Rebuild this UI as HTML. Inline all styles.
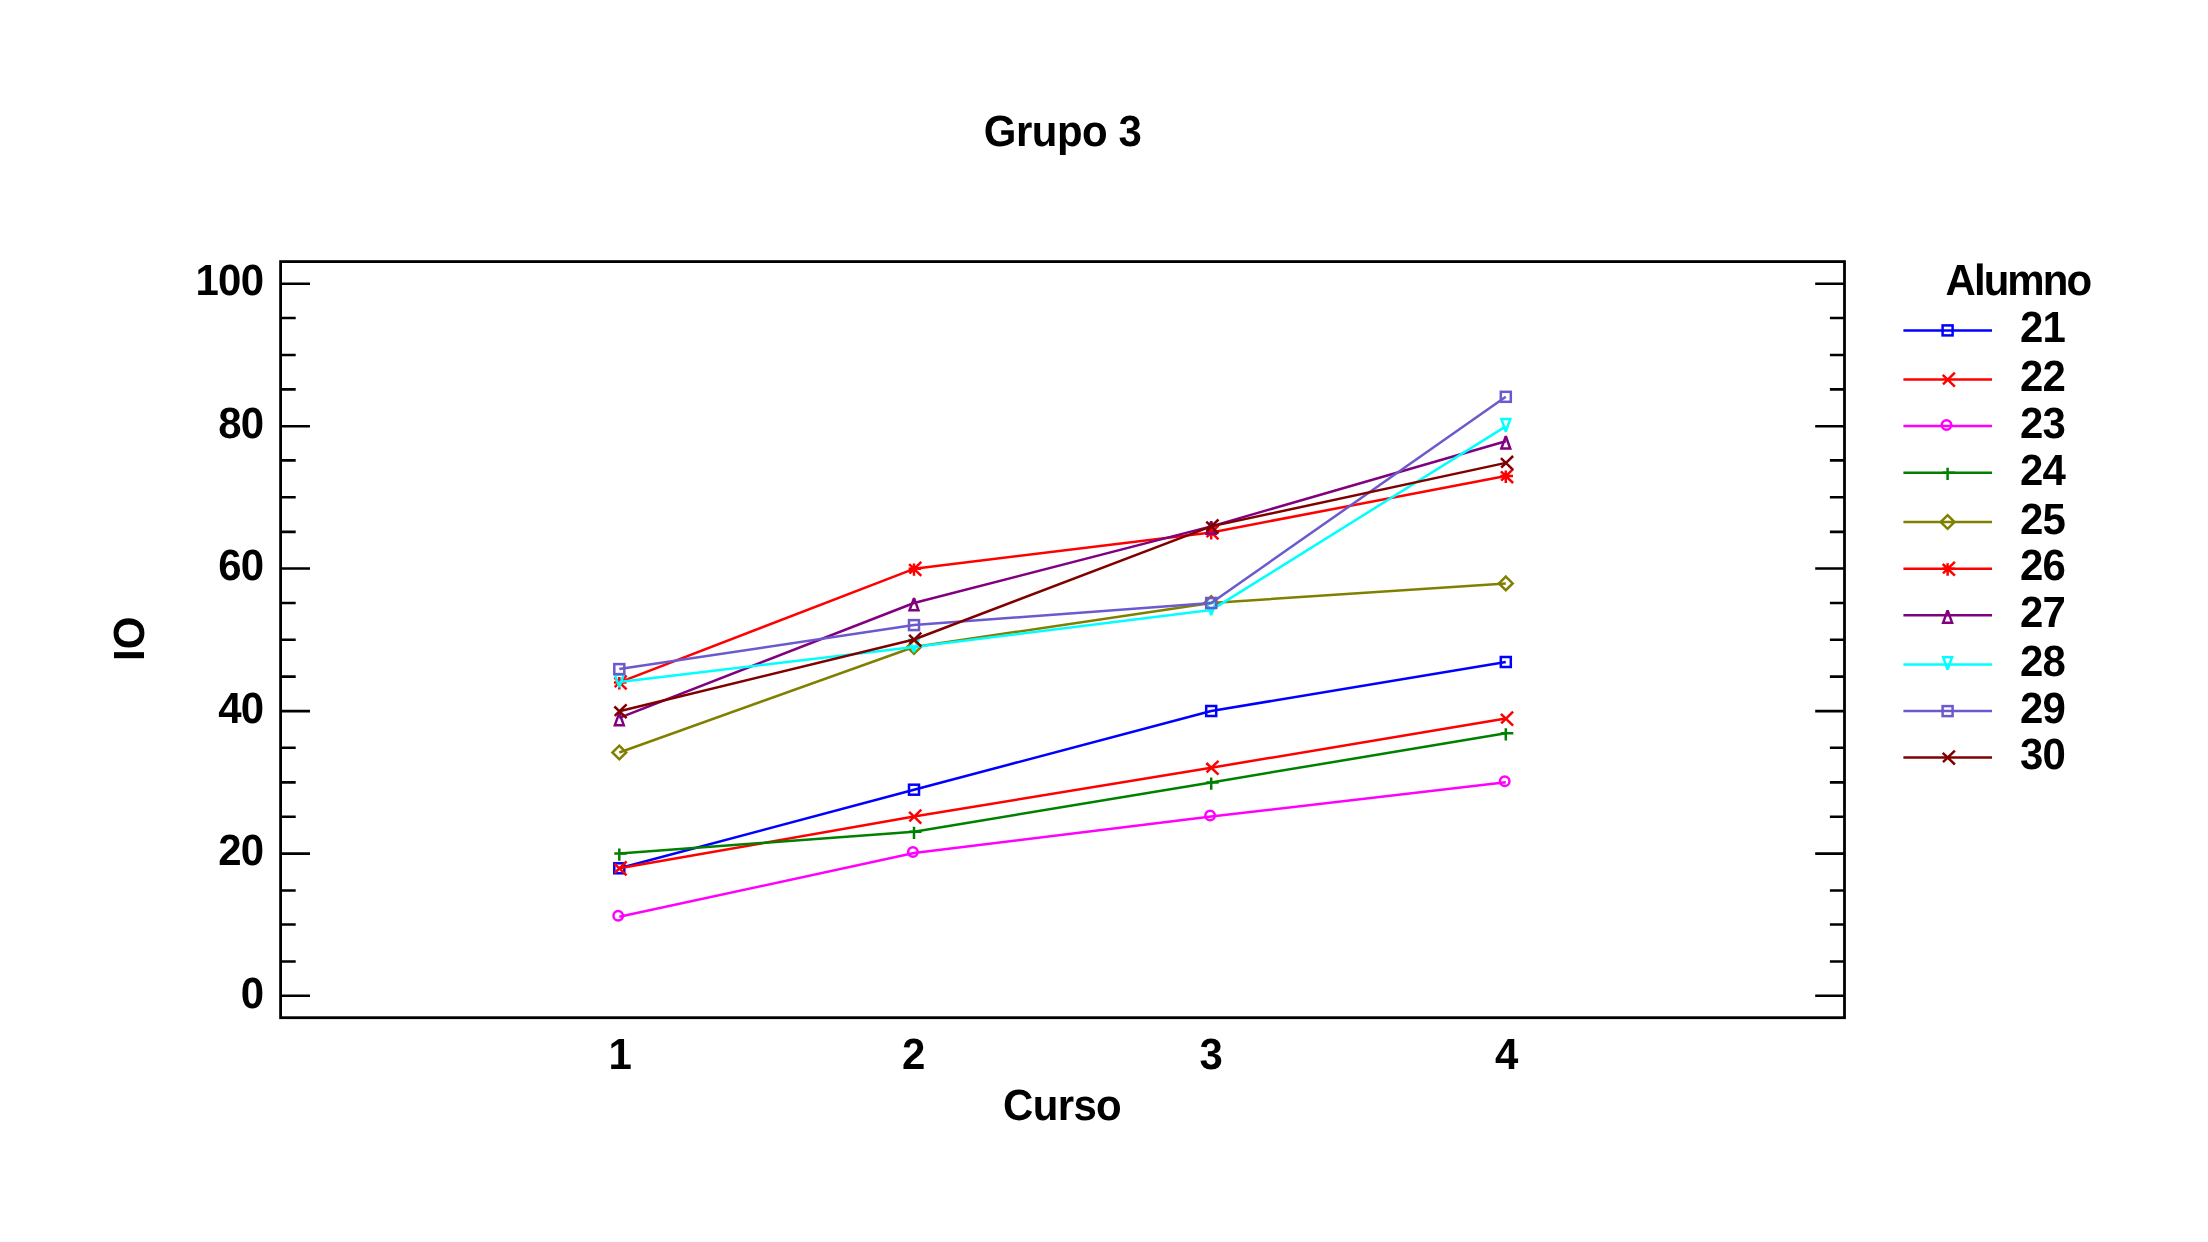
<!DOCTYPE html>
<html><head><meta charset="utf-8"><title>Grupo 3</title>
<style>
html,body{margin:0;padding:0;background:#fff;}
body{width:2208px;height:1242px;overflow:hidden;font-family:"Liberation Sans",sans-serif;}
svg{display:block;will-change:transform;}
text{font-family:"Liberation Sans",sans-serif;font-weight:bold;fill:#000;text-rendering:geometricPrecision;}
</style></head><body>
<svg width="2208" height="1242" viewBox="0 0 2208 1242">
<rect x="0" y="0" width="2208" height="1242" fill="#ffffff"/>
<text id="title" transform="translate(983.70,146.00) scale(0.9633,1)" font-size="43.6" letter-spacing="-0.5">Grupo 3</text>
<text id="xlab" transform="translate(1003.10,1120.00) scale(0.9633,1)" font-size="43.6" letter-spacing="-0.7">Curso</text>
<text id="ylab" transform="translate(144.30,660.90) rotate(-90) scale(0.9633,1)" font-size="43.6">IO</text>
<text transform="translate(263.30,1008.00) scale(0.9633,1)" font-size="43.6" text-anchor="end" letter-spacing="-0.8">0</text>
<text transform="translate(263.30,865.00) scale(0.9633,1)" font-size="43.6" text-anchor="end" letter-spacing="-0.8">20</text>
<text transform="translate(263.30,723.00) scale(0.9633,1)" font-size="43.6" text-anchor="end" letter-spacing="-0.8">40</text>
<text transform="translate(263.30,580.00) scale(0.9633,1)" font-size="43.6" text-anchor="end" letter-spacing="-0.8">60</text>
<text transform="translate(263.30,438.00) scale(0.9633,1)" font-size="43.6" text-anchor="end" letter-spacing="-0.8">80</text>
<text transform="translate(263.30,295.00) scale(0.9633,1)" font-size="43.6" text-anchor="end" letter-spacing="-0.8">100</text>
<text transform="translate(620.10,1069.00) scale(0.9633,1)" font-size="43.6" text-anchor="middle">1</text>
<text transform="translate(913.70,1069.00) scale(0.9633,1)" font-size="43.6" text-anchor="middle">2</text>
<text transform="translate(1211.30,1069.00) scale(0.9633,1)" font-size="43.6" text-anchor="middle">3</text>
<text transform="translate(1506.60,1069.00) scale(0.9633,1)" font-size="43.6" text-anchor="middle">4</text>
<path d="M280.6,995.80h29.4M1844.5,995.80h-29.3M280.6,961.50h15.1M1844.5,961.50h-14.6M280.6,924.50h15.1M1844.5,924.50h-14.6M280.6,890.50h15.1M1844.5,890.50h-14.6M280.6,853.60h29.4M1844.5,853.60h-29.3M280.6,816.70h15.1M1844.5,816.70h-14.6M280.6,782.40h15.1M1844.5,782.40h-14.6M280.6,747.80h15.1M1844.5,747.80h-14.6M280.6,711.10h29.4M1844.5,711.10h-29.3M280.6,676.60h15.1M1844.5,676.60h-14.6M280.6,639.80h15.1M1844.5,639.80h-14.6M280.6,603.00h15.1M1844.5,603.00h-14.6M280.6,568.50h29.4M1844.5,568.50h-29.3M280.6,531.90h15.1M1844.5,531.90h-14.6M280.6,497.30h15.1M1844.5,497.30h-14.6M280.6,460.40h15.1M1844.5,460.40h-14.6M280.6,426.30h29.4M1844.5,426.30h-29.3M280.6,389.40h15.1M1844.5,389.40h-14.6M280.6,355.00h15.1M1844.5,355.00h-14.6M280.6,318.00h15.1M1844.5,318.00h-14.6M280.6,283.70h29.4M1844.5,283.70h-29.3" stroke="#000" stroke-width="2.6" fill="none"/>
<rect x="280.6" y="261.6" width="1563.90" height="756.10" fill="none" stroke="#000" stroke-width="2.8"/>
<g><polyline points="619.30,868.30 914.00,789.70 1211.20,711.00 1505.80,662.00" fill="none" stroke="#0000ff" stroke-width="2.5" stroke-linejoin="round"/>
<rect transform="translate(619.30,868.30)" x="-5" y="-5" width="10" height="10" stroke="#0000ff" stroke-width="2.5" fill="none" stroke-miterlimit="2.5"/>
<rect transform="translate(914.00,789.70)" x="-5" y="-5" width="10" height="10" stroke="#0000ff" stroke-width="2.5" fill="none" stroke-miterlimit="2.5"/>
<rect transform="translate(1211.20,711.00)" x="-5" y="-5" width="10" height="10" stroke="#0000ff" stroke-width="2.5" fill="none" stroke-miterlimit="2.5"/>
<rect transform="translate(1505.80,662.00)" x="-5" y="-5" width="10" height="10" stroke="#0000ff" stroke-width="2.5" fill="none" stroke-miterlimit="2.5"/>
</g>
<g><polyline points="619.30,868.30 914.00,816.60 1211.20,767.70 1505.80,718.60" fill="none" stroke="#ff0000" stroke-width="2.5" stroke-linejoin="round"/>
<path transform="translate(619.30,868.30)" d="M-4.9,-4.7L7.3,7.0M7.3,-6.9L-4.6,4.7" stroke="#ff0000" stroke-width="2.5" fill="none" stroke-miterlimit="2.5"/>
<path transform="translate(914.00,816.60)" d="M-4.9,-4.7L7.3,7.0M7.3,-6.9L-4.6,4.7" stroke="#ff0000" stroke-width="2.5" fill="none" stroke-miterlimit="2.5"/>
<path transform="translate(1211.20,767.70)" d="M-4.9,-4.7L7.3,7.0M7.3,-6.9L-4.6,4.7" stroke="#ff0000" stroke-width="2.5" fill="none" stroke-miterlimit="2.5"/>
<path transform="translate(1505.80,718.60)" d="M-4.9,-4.7L7.3,7.0M7.3,-6.9L-4.6,4.7" stroke="#ff0000" stroke-width="2.5" fill="none" stroke-miterlimit="2.5"/>
</g>
<g><polyline points="619.30,916.80 914.00,853.00 1211.20,816.50 1505.80,782.20" fill="none" stroke="#ff00ff" stroke-width="2.5" stroke-linejoin="round"/>
<circle transform="translate(619.30,916.80)" cx="-1.1" cy="-1.0" r="4.75" stroke="#ff00ff" stroke-width="2.5" fill="none" stroke-miterlimit="2.5"/>
<circle transform="translate(914.00,853.00)" cx="-1.1" cy="-1.0" r="4.75" stroke="#ff00ff" stroke-width="2.5" fill="none" stroke-miterlimit="2.5"/>
<circle transform="translate(1211.20,816.50)" cx="-1.1" cy="-1.0" r="4.75" stroke="#ff00ff" stroke-width="2.5" fill="none" stroke-miterlimit="2.5"/>
<circle transform="translate(1505.80,782.20)" cx="-1.1" cy="-1.0" r="4.75" stroke="#ff00ff" stroke-width="2.5" fill="none" stroke-miterlimit="2.5"/>
</g>
<g><polyline points="619.30,853.50 914.00,831.80 1211.20,782.40 1505.80,733.30" fill="none" stroke="#008000" stroke-width="2.5" stroke-linejoin="round"/>
<path transform="translate(619.30,853.50)" d="M0,-5L0,7.3M-5,0L7.5,0" stroke="#008000" stroke-width="2.5" fill="none" stroke-miterlimit="2.5"/>
<path transform="translate(914.00,831.80)" d="M0,-5L0,7.3M-5,0L7.5,0" stroke="#008000" stroke-width="2.5" fill="none" stroke-miterlimit="2.5"/>
<path transform="translate(1211.20,782.40)" d="M0,-5L0,7.3M-5,0L7.5,0" stroke="#008000" stroke-width="2.5" fill="none" stroke-miterlimit="2.5"/>
<path transform="translate(1505.80,733.30)" d="M0,-5L0,7.3M-5,0L7.5,0" stroke="#008000" stroke-width="2.5" fill="none" stroke-miterlimit="2.5"/>
</g>
<g><polyline points="619.30,752.50 914.00,647.00 1211.20,603.00 1505.80,583.40" fill="none" stroke="#808000" stroke-width="2.5" stroke-linejoin="round"/>
<path transform="translate(619.30,752.50)" d="M0,-6.8L6.9,0L0,6.8L-6.9,0Z" stroke="#808000" stroke-width="2.5" fill="none" stroke-miterlimit="2.5"/>
<path transform="translate(914.00,647.00)" d="M0,-6.8L6.9,0L0,6.8L-6.9,0Z" stroke="#808000" stroke-width="2.5" fill="none" stroke-miterlimit="2.5"/>
<path transform="translate(1211.20,603.00)" d="M0,-6.8L6.9,0L0,6.8L-6.9,0Z" stroke="#808000" stroke-width="2.5" fill="none" stroke-miterlimit="2.5"/>
<path transform="translate(1505.80,583.40)" d="M0,-6.8L6.9,0L0,6.8L-6.9,0Z" stroke="#808000" stroke-width="2.5" fill="none" stroke-miterlimit="2.5"/>
</g>
<g><polyline points="619.30,682.40 914.00,568.80 1211.20,532.40 1505.80,476.00" fill="none" stroke="#ff0000" stroke-width="2.5" stroke-linejoin="round"/>
<path transform="translate(619.30,682.40)" d="M-4.9,-4.7L7.3,7.0M7.3,-6.9L-4.6,4.7M0,-5.4L0,7M-5.4,0L7.2,0" stroke="#ff0000" stroke-width="2.5" fill="none" stroke-miterlimit="2.5"/>
<path transform="translate(914.00,568.80)" d="M-4.9,-4.7L7.3,7.0M7.3,-6.9L-4.6,4.7M0,-5.4L0,7M-5.4,0L7.2,0" stroke="#ff0000" stroke-width="2.5" fill="none" stroke-miterlimit="2.5"/>
<path transform="translate(1211.20,532.40)" d="M-4.9,-4.7L7.3,7.0M7.3,-6.9L-4.6,4.7M0,-5.4L0,7M-5.4,0L7.2,0" stroke="#ff0000" stroke-width="2.5" fill="none" stroke-miterlimit="2.5"/>
<path transform="translate(1505.80,476.00)" d="M-4.9,-4.7L7.3,7.0M7.3,-6.9L-4.6,4.7M0,-5.4L0,7M-5.4,0L7.2,0" stroke="#ff0000" stroke-width="2.5" fill="none" stroke-miterlimit="2.5"/>
</g>
<g><polyline points="619.30,717.80 914.00,603.00 1211.20,526.40 1505.80,441.20" fill="none" stroke="#800080" stroke-width="2.5" stroke-linejoin="round"/>
<path transform="translate(619.30,717.80)" d="M0,-4.9L4.45,7.35L-4.45,7.35Z" stroke="#800080" stroke-width="2.5" fill="none" stroke-miterlimit="2.5"/>
<path transform="translate(914.00,603.00)" d="M0,-4.9L4.45,7.35L-4.45,7.35Z" stroke="#800080" stroke-width="2.5" fill="none" stroke-miterlimit="2.5"/>
<path transform="translate(1211.20,526.40)" d="M0,-4.9L4.45,7.35L-4.45,7.35Z" stroke="#800080" stroke-width="2.5" fill="none" stroke-miterlimit="2.5"/>
<path transform="translate(1505.80,441.20)" d="M0,-4.9L4.45,7.35L-4.45,7.35Z" stroke="#800080" stroke-width="2.5" fill="none" stroke-miterlimit="2.5"/>
</g>
<g><polyline points="619.30,682.00 914.00,647.00 1211.20,610.10 1505.80,426.40" fill="none" stroke="#00ffff" stroke-width="2.5" stroke-linejoin="round"/>
<path transform="translate(619.30,682.00)" d="M0,5.1L4.45,-7.35L-4.45,-7.35Z" stroke="#00ffff" stroke-width="2.5" fill="none" stroke-miterlimit="2.5"/>
<path transform="translate(914.00,647.00)" d="M0,5.1L4.45,-7.35L-4.45,-7.35Z" stroke="#00ffff" stroke-width="2.5" fill="none" stroke-miterlimit="2.5"/>
<path transform="translate(1211.20,610.10)" d="M0,5.1L4.45,-7.35L-4.45,-7.35Z" stroke="#00ffff" stroke-width="2.5" fill="none" stroke-miterlimit="2.5"/>
<path transform="translate(1505.80,426.40)" d="M0,5.1L4.45,-7.35L-4.45,-7.35Z" stroke="#00ffff" stroke-width="2.5" fill="none" stroke-miterlimit="2.5"/>
</g>
<g><polyline points="619.30,669.10 914.00,625.10 1211.20,603.00 1505.80,396.80" fill="none" stroke="#6a5acd" stroke-width="2.5" stroke-linejoin="round"/>
<rect transform="translate(619.30,669.10)" x="-5" y="-5" width="10" height="10" stroke="#6a5acd" stroke-width="2.5" fill="none" stroke-miterlimit="2.5"/>
<rect transform="translate(914.00,625.10)" x="-5" y="-5" width="10" height="10" stroke="#6a5acd" stroke-width="2.5" fill="none" stroke-miterlimit="2.5"/>
<rect transform="translate(1211.20,603.00)" x="-5" y="-5" width="10" height="10" stroke="#6a5acd" stroke-width="2.5" fill="none" stroke-miterlimit="2.5"/>
<rect transform="translate(1505.80,396.80)" x="-5" y="-5" width="10" height="10" stroke="#6a5acd" stroke-width="2.5" fill="none" stroke-miterlimit="2.5"/>
</g>
<g><polyline points="619.30,711.20 914.00,639.50 1211.20,526.40 1505.80,462.90" fill="none" stroke="#800000" stroke-width="2.5" stroke-linejoin="round"/>
<path transform="translate(619.30,711.20)" d="M-4.9,-4.7L7.3,7.0M7.3,-6.9L-4.6,4.7" stroke="#800000" stroke-width="2.5" fill="none" stroke-miterlimit="2.5"/>
<path transform="translate(914.00,639.50)" d="M-4.9,-4.7L7.3,7.0M7.3,-6.9L-4.6,4.7" stroke="#800000" stroke-width="2.5" fill="none" stroke-miterlimit="2.5"/>
<path transform="translate(1211.20,526.40)" d="M-4.9,-4.7L7.3,7.0M7.3,-6.9L-4.6,4.7" stroke="#800000" stroke-width="2.5" fill="none" stroke-miterlimit="2.5"/>
<path transform="translate(1505.80,462.90)" d="M-4.9,-4.7L7.3,7.0M7.3,-6.9L-4.6,4.7" stroke="#800000" stroke-width="2.5" fill="none" stroke-miterlimit="2.5"/>
</g>
<text id="legt" transform="translate(1945.50,295.00) scale(0.9633,1)" font-size="43.6" letter-spacing="-2.0">Alumno</text>
<path d="M1903.4,330.4H1992" stroke="#0000ff" stroke-width="2.5" fill="none"/>
<rect transform="translate(1947.60,330.40)" x="-5" y="-5" width="10" height="10" stroke="#0000ff" stroke-width="2.5" fill="none" stroke-miterlimit="2.5"/>
<text transform="translate(2020.00,342.00) scale(0.9633,1)" font-size="43.6" letter-spacing="-1.0">21</text>
<path d="M1903.4,379.6H1992" stroke="#ff0000" stroke-width="2.5" fill="none"/>
<path transform="translate(1947.60,379.60)" d="M-4.9,-4.7L7.3,7.0M7.3,-6.9L-4.6,4.7" stroke="#ff0000" stroke-width="2.5" fill="none" stroke-miterlimit="2.5"/>
<text transform="translate(2020.00,391.00) scale(0.9633,1)" font-size="43.6" letter-spacing="-1.0">22</text>
<path d="M1903.4,426.1H1992" stroke="#ff00ff" stroke-width="2.5" fill="none"/>
<circle transform="translate(1947.60,426.10)" cx="-1.1" cy="-1.0" r="4.75" stroke="#ff00ff" stroke-width="2.5" fill="none" stroke-miterlimit="2.5"/>
<text transform="translate(2020.00,438.00) scale(0.9633,1)" font-size="43.6" letter-spacing="-1.0">23</text>
<path d="M1903.4,472.8H1992" stroke="#008000" stroke-width="2.5" fill="none"/>
<path transform="translate(1947.60,472.80)" d="M0,-5L0,7.3M-5,0L7.5,0" stroke="#008000" stroke-width="2.5" fill="none" stroke-miterlimit="2.5"/>
<text transform="translate(2020.00,485.00) scale(0.9633,1)" font-size="43.6" letter-spacing="-1.0">24</text>
<path d="M1903.4,522.0H1992" stroke="#808000" stroke-width="2.5" fill="none"/>
<path transform="translate(1947.60,522.00)" d="M0,-6.8L6.9,0L0,6.8L-6.9,0Z" stroke="#808000" stroke-width="2.5" fill="none" stroke-miterlimit="2.5"/>
<text transform="translate(2020.00,534.00) scale(0.9633,1)" font-size="43.6" letter-spacing="-1.0">25</text>
<path d="M1903.4,568.7H1992" stroke="#ff0000" stroke-width="2.5" fill="none"/>
<path transform="translate(1947.60,568.70)" d="M-4.9,-4.7L7.3,7.0M7.3,-6.9L-4.6,4.7M0,-5.4L0,7M-5.4,0L7.2,0" stroke="#ff0000" stroke-width="2.5" fill="none" stroke-miterlimit="2.5"/>
<text transform="translate(2020.00,580.00) scale(0.9633,1)" font-size="43.6" letter-spacing="-1.0">26</text>
<path d="M1903.4,615.3H1992" stroke="#800080" stroke-width="2.5" fill="none"/>
<path transform="translate(1947.60,615.30)" d="M0,-4.9L4.45,7.35L-4.45,7.35Z" stroke="#800080" stroke-width="2.5" fill="none" stroke-miterlimit="2.5"/>
<text transform="translate(2020.00,627.00) scale(0.9633,1)" font-size="43.6" letter-spacing="-1.0">27</text>
<path d="M1903.4,664.5H1992" stroke="#00ffff" stroke-width="2.5" fill="none"/>
<path transform="translate(1947.60,664.50)" d="M0,5.1L4.45,-7.35L-4.45,-7.35Z" stroke="#00ffff" stroke-width="2.5" fill="none" stroke-miterlimit="2.5"/>
<text transform="translate(2020.00,676.00) scale(0.9633,1)" font-size="43.6" letter-spacing="-1.0">28</text>
<path d="M1903.4,711.1H1992" stroke="#6a5acd" stroke-width="2.5" fill="none"/>
<rect transform="translate(1947.60,711.10)" x="-5" y="-5" width="10" height="10" stroke="#6a5acd" stroke-width="2.5" fill="none" stroke-miterlimit="2.5"/>
<text transform="translate(2020.00,723.00) scale(0.9633,1)" font-size="43.6" letter-spacing="-1.0">29</text>
<path d="M1903.4,757.5H1992" stroke="#800000" stroke-width="2.5" fill="none"/>
<path transform="translate(1947.60,757.50)" d="M-4.9,-4.7L7.3,7.0M7.3,-6.9L-4.6,4.7" stroke="#800000" stroke-width="2.5" fill="none" stroke-miterlimit="2.5"/>
<text transform="translate(2020.00,769.00) scale(0.9633,1)" font-size="43.6" letter-spacing="-1.0">30</text>
</svg></body></html>
